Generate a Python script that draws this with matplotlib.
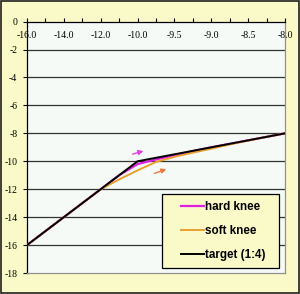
import matplotlib
matplotlib.use("Agg")
import matplotlib.pyplot as plt
import numpy as np

categories = [-16.0, -15.0, -14.0, -13.0, -12.0, -11.0, -10.0, -9.75, -9.5, -9.25, -9.0, -8.75, -8.5, -8.25, -8.0]
tick_labels = ["-16.0", "", "-14.0", "", "-12.0", "", "-10.0", "", "-9.5", "", "-9.0", "", "-8.5", "", "-8.0"]
hard_knee = [-16, -15, -14, -13, -12, -11, -10.2, -9.87, -9.57, -9.27, -9.0, -8.75, -8.5, -8.25, -8.0]
soft_knee = [-16, -15, -14, -13, -12, -11.3, -10.65, -10.05, -9.68, -9.38, -9.1, -8.8, -8.52, -8.25, -8.0]
target = [-16, -15, -14, -13, -12, -11, -10, -9.75, -9.5, -9.25, -9.0, -8.75, -8.5, -8.25, -8.0]
y_ticks = [0, -2, -4, -6, -8, -10, -12, -14, -16, -18]

fig_bg = "#FAFAC8"
plot_bg = "#F6FAF6"

fig = plt.figure(figsize=(3.0, 2.94), dpi=100, facecolor=fig_bg)
ax = fig.add_axes([0.09, 0.0714, 0.86, 0.855])
ax.set_facecolor(plot_bg)

x = np.arange(len(categories))
for yv in y_ticks[1:-1]:
    ax.axhline(yv, color="#333333", lw=0.9, zorder=1)

ax.plot(x, hard_knee, color="#E020E0", lw=1.6, label="hard knee", zorder=3)
ax.plot(x, soft_knee, color="#E8A030", lw=1.4, label="soft knee", zorder=4)
ax.plot(x, target, color="#000000", lw=1.4, label="target (1:4)", zorder=5)

ax.annotate("", xy=(6.46, -9.21), xytext=(5.59, -9.54),
            arrowprops=dict(arrowstyle="-|>", color="#E040E0", lw=1.0, mutation_scale=7), zorder=6)
ax.annotate("", xy=(7.70, -10.5), xytext=(6.78, -10.93),
            arrowprops=dict(arrowstyle="-|>", color="#F07840", lw=1.0, mutation_scale=7), zorder=6)

ax.set_xlim(0, len(categories) - 1)
ax.set_ylim(-18, 0)
ax.set_xticks(x)
ax.set_xticklabels(tick_labels, family="Liberation Serif", fontsize=7)
ax.xaxis.tick_top()
ax.tick_params(axis="x", direction="out", length=3, width=0.8, pad=-16, colors="#000000")
ax.set_yticks(y_ticks)
ax.set_yticklabels([str(v) for v in y_ticks], family="Liberation Serif", fontsize=7)
ax.tick_params(axis="y", direction="out", length=3, width=0.8, pad=4)

for s in ["left", "top"]:
    ax.spines[s].set_color("#000000")
    ax.spines[s].set_linewidth(0.9)
for s in ["right", "bottom"]:
    ax.spines[s].set_color("#909090")
    ax.spines[s].set_linewidth(0.9)

# legend box
box = plt.Rectangle((161.5 / 300, 1 - 267.7 / 294), (279.3 - 161.5) / 300, (267.7 - 194.3) / 294,
                    transform=fig.transFigure, facecolor=fig_bg, edgecolor="#000000", lw=0.9, zorder=10)
fig.patches.append(box)

leg = fig.legend(*ax.get_legend_handles_labels(), loc="upper left",
                 bbox_to_anchor=(181 / 300, 1 - 201.5 / 294), bbox_transform=fig.transFigure,
                 frameon=False, prop=dict(family="Liberation Sans", weight="bold", size=8.4),
                 handlelength=1.95, handletextpad=0.1, labelspacing=1.02,
                 borderpad=0, borderaxespad=0)
leg.set_zorder(11)

border = plt.Rectangle((0.002, 0.002), 0.996, 0.996, transform=fig.transFigure,
                       fill=False, edgecolor="#202020", lw=1.2)
fig.patches.append(border)

fig.savefig("out.png", dpi=100, facecolor=fig_bg)
